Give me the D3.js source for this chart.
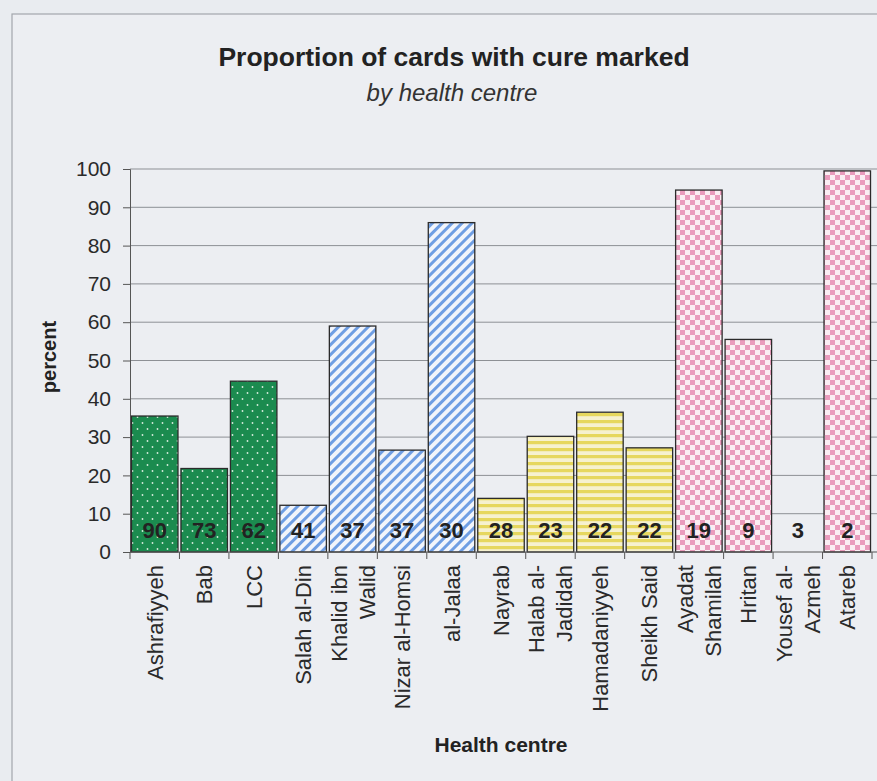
<!DOCTYPE html>
<html>
<head>
<meta charset="utf-8">
<script src="https://cdn.jsdelivr.net/npm/d3@7"></script>
<style>
  html, body { margin: 0; padding: 0; background: #e9ecf0; }
  svg { display: block; font-family: "Liberation Sans", Arial, sans-serif; }
</style>
</head>
<body>
<script>
// ---- data ----
const categories = ["Ashrafiyyeh", "Bab", "LCC", "Salah al-Din", "Khalid ibn\nWalid", "Nizar al-Homsi",
  "al-Jalaa", "Nayrab", "Halab al-\nJadidah", "Hamadaniyyeh", "Sheikh Said", "Ayadat\nShamilah",
  "Hritan", "Yousef al-\nAzmeh", "Atareb"];
const percentValues = [35.5, 21.8, 44.6, 12.2, 59, 26.6, 86, 14, 30.2, 36.5, 27.2, 94.5, 55.5, 0, 99.5];
const cardCounts = [90, 73, 62, 41, 37, 37, 30, 28, 23, 22, 22, 19, 9, 3, 2];
const groups = ["green", "green", "green", "blue", "blue", "blue", "blue",
  "yellow", "yellow", "yellow", "yellow", "pink", "pink", "pink", "pink"];
const yTicks = [0, 10, 20, 30, 40, 50, 60, 70, 80, 90, 100];
const titleText = "Proportion of cards with cure marked";
const subtitleText = "by health centre";
const yAxisTitle = "percent";
const xAxisTitle = "Health centre";

// ---- layout ----
const W = 877, H = 781;
const plot = { left: 130, right: 872, top: 169, bottom: 552 };
const ink = "#222";

const svg = d3.select("body").append("svg").attr("width", W).attr("height", H);

// patterns
const defs = svg.append("defs");
const pg = defs.append("pattern").attr("id", "pat-green").attr("patternUnits", "userSpaceOnUse")
  .attr("width", 10).attr("height", 12);
pg.append("rect").attr("width", 10).attr("height", 12).attr("fill", "#1b8b4f");
pg.append("circle").attr("cx", 2.5).attr("cy", 3).attr("r", 0.9).attr("fill", "#d6ecdc");
pg.append("circle").attr("cx", 7.5).attr("cy", 9).attr("r", 0.9).attr("fill", "#d6ecdc");

const pb = defs.append("pattern").attr("id", "pat-blue").attr("patternUnits", "userSpaceOnUse")
  .attr("width", 7).attr("height", 7).attr("patternTransform", "rotate(45)");
pb.append("rect").attr("width", 7).attr("height", 7).attr("fill", "#f2f5fb");
pb.append("rect").attr("width", 3).attr("height", 7).attr("fill", "#6f9ee3");

const py = defs.append("pattern").attr("id", "pat-yellow").attr("patternUnits", "userSpaceOnUse")
  .attr("width", 7).attr("height", 7);
py.append("rect").attr("width", 7).attr("height", 7).attr("fill", "#f6f1cf");
py.append("rect").attr("width", 7).attr("height", 3.2).attr("fill", "#e6d75e");

const pp = defs.append("pattern").attr("id", "pat-pink").attr("patternUnits", "userSpaceOnUse")
  .attr("width", 10).attr("height", 10);
pp.append("rect").attr("width", 10).attr("height", 10).attr("fill", "#fbeef3");
pp.append("rect").attr("width", 5).attr("height", 5).attr("fill", "#ea9cbd");
pp.append("rect").attr("x", 5).attr("y", 5).attr("width", 5).attr("height", 5).attr("fill", "#ea9cbd");

// frame
svg.append("rect").attr("x", 12).attr("y", 14).attr("width", W + 10).attr("height", H + 10)
  .attr("fill", "#eceef2").attr("stroke", "#a3a6ac").attr("stroke-width", 1.2);

// scales
const x = d3.scaleBand().domain(d3.range(categories.length)).range([plot.left, plot.right])
  .paddingInner(0.06).paddingOuter(0.03);
const y = d3.scaleLinear().domain([0, 100]).range([plot.bottom, plot.top]);

// gridlines
svg.append("g").selectAll("line").data(yTicks.filter(d => d > 0)).join("line")
  .attr("x1", plot.left).attr("x2", W)
  .attr("y1", d => y(d)).attr("y2", d => y(d))
  .attr("stroke", "#8d9095").attr("stroke-width", 1);

// y axis
const yAxis = svg.append("g").attr("transform", `translate(${plot.left},0)`)
  .call(d3.axisLeft(y).tickValues(yTicks).tickSize(7).tickPadding(12));
yAxis.select(".domain").attr("stroke", "#555");
yAxis.selectAll(".tick line").attr("stroke", "#555");
yAxis.selectAll(".tick text").attr("font-size", 21).attr("fill", "#2a2a2a")
  .attr("font-family", "Liberation Sans, Arial, sans-serif");

// bars
svg.append("g").selectAll("rect").data(percentValues).join("rect")
  .attr("x", (d, i) => x(i)).attr("width", x.bandwidth())
  .attr("y", d => y(d)).attr("height", d => y(0) - y(d))
  .attr("fill", (d, i) => `url(#pat-${groups[i]})`)
  .attr("stroke", d => d > 0 ? "#2b2b2b" : "none").attr("stroke-width", 1.3);

// x axis
const step = x.step();
const xAxisG = svg.append("g");
xAxisG.append("line").attr("x1", plot.left).attr("x2", W).attr("y1", y(0)).attr("y2", y(0))
  .attr("stroke", "#555");
xAxisG.selectAll("line.tk").data(d3.range(categories.length + 1)).join("line").attr("class", "tk")
  .attr("x1", i => plot.left + i * step).attr("x2", i => plot.left + i * step)
  .attr("y1", y(0)).attr("y2", y(0) + 7).attr("stroke", "#555");

// count labels
svg.append("g").selectAll("text").data(cardCounts).join("text")
  .attr("x", (d, i) => x(i) + x.bandwidth() / 2).attr("y", y(0) - 14)
  .attr("text-anchor", "middle").attr("font-size", 22).attr("font-weight", "bold")
  .attr("fill", ink).text(d => d);

// category labels (rotated)
const catG = svg.append("g").selectAll("g").data(categories).join("g")
  .attr("transform", (d, i) => `translate(${x(i) + x.bandwidth() / 2},${y(0) + 13}) rotate(-90)`);
catG.each(function (d) {
  const lines = d.split("\n");
  const t = d3.select(this).append("text").attr("text-anchor", "end")
    .attr("font-size", 22).attr("fill", "#2a2a2a");
  const lh = 28;
  lines.forEach((ln, k) => {
    t.append("tspan").attr("x", 0)
      .attr("y", (k - (lines.length - 1) / 2) * lh + 8).text(ln);
  });
});

// titles
svg.append("text").attr("x", 454).attr("y", 66).attr("text-anchor", "middle")
  .attr("font-size", 26.5).attr("font-weight", "bold").attr("fill", ink).text(titleText);
svg.append("text").attr("x", 452).attr("y", 101).attr("text-anchor", "middle")
  .attr("font-size", 24).attr("font-style", "italic").attr("fill", "#333").text(subtitleText);
svg.append("text").attr("transform", `translate(56,357) rotate(-90)`).attr("text-anchor", "middle")
  .attr("font-size", 20).attr("font-weight", "bold").attr("fill", ink).text(yAxisTitle);
svg.append("text").attr("x", 501).attr("y", 752).attr("text-anchor", "middle")
  .attr("font-size", 21).attr("font-weight", "bold").attr("fill", ink).text(xAxisTitle);
</script>
</body>
</html>
